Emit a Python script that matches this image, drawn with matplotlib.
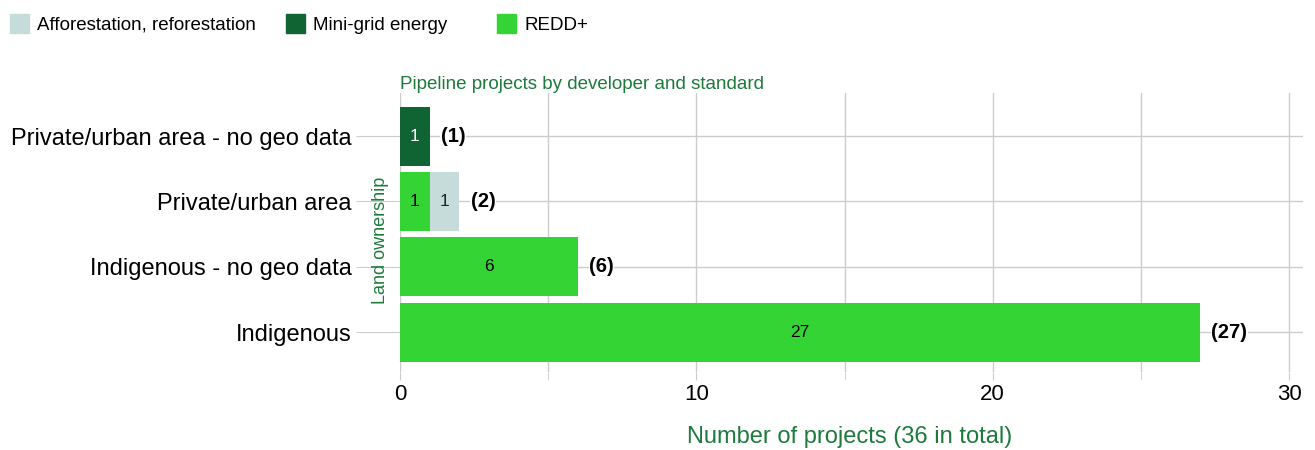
import numpy as np
import matplotlib.pyplot as plt
from matplotlib.patches import Rectangle

plt.rcParams['font.family'] = ['Liberation Sans', 'DejaVu Sans']

# data (bottom to top)
categories = ['Indigenous', 'Indigenous - no geo data',
              'Private/urban area', 'Private/urban area - no geo data']
redd = [27, 6, 1, 0]
afforestation = [0, 0, 1, 0]
minigrid = [0, 0, 0, 1]
series_names = ['REDD+', 'Afforestation, reforestation', 'Mini-grid energy']

colors = {'REDD+': '#35d435',
          'Afforestation, reforestation': '#c6dcda',
          'Mini-grid energy': '#106433'}
label_colors = {'REDD+': 'black',
                'Afforestation, reforestation': '#222222',
                'Mini-grid energy': 'white'}
green_text = '#1d7a3c'
grid_col = '#cccccc'

fig = plt.figure(figsize=(13.15, 4.5), dpi=100)
ax = fig.add_axes([400 / 1315, 1 - 372 / 450, 903 / 1315, 279 / 450])

y = np.arange(len(categories))
left = np.zeros(len(categories))
for name, vals in zip(series_names, [redd, afforestation, minigrid]):
  vals = np.array(vals, dtype=float)
  ax.barh(y, vals, left=left, height=0.9, color=colors[name], zorder=3)
  for i in range(len(vals)):
    if vals[i] > 0:
      ax.text(left[i] + vals[i] / 2, y[i], '%d' % vals[i], ha='center', va='center',
              fontsize=12.5, color=label_colors[name], zorder=4)
  left = left + vals

for i in range(len(categories)):
  ax.text(left[i] + 0.38, y[i], '(%d)' % left[i], ha='left', va='center',
          fontsize=14.5, fontweight='bold', color='black', zorder=4,
          bbox=dict(facecolor='white', edgecolor='none', pad=0.3))

ax.set_xlim(0, 30.47)
ax.set_ylim(-0.61, 3.66)
ax.set_xticks([0, 10, 20, 30])
ax.set_xticks([5, 15, 25], minor=True)
ax.set_yticks(y)
ax.set_yticklabels(categories, fontsize=17)
ax.tick_params(axis='x', which='both', length=6, color=grid_col, labelsize=16, pad=3)
ax.tick_params(axis='y', length=32, color=grid_col, pad=3)
ax.grid(True, which='both', axis='x', color=grid_col, linewidth=1, zorder=0)
ax.grid(True, axis='y', color=grid_col, linewidth=1, zorder=0)
for s in ax.spines.values():
  s.set_visible(False)

ax.set_xlabel('Number of projects (36 in total)', fontsize=17, color=green_text, va='center')
ax.xaxis.set_label_coords(0.498, -0.233)
ax.set_ylabel('Land ownership', fontsize=13, color=green_text, va='center')
ax.yaxis.set_label_coords(-0.022, 0.473)
ax.set_title('Pipeline projects by developer and standard', fontsize=13.5,
             color=green_text, loc='left', pad=3)

# legend across the top
legend_items = ['Afforestation, reforestation', 'Mini-grid energy', 'REDD+']
legend_x = [10, 286, 497]
for name, lx in zip(legend_items, legend_x):
  fig.add_artist(Rectangle((lx / 1315, 1 - 33 / 450), 19 / 1315, 19 / 450,
                           transform=fig.transFigure, color=colors[name]))
  fig.text((lx + 27) / 1315, 1 - 25 / 450, name, fontsize=13.5, va='center', ha='left')

plt.savefig('out.png', dpi=100)
